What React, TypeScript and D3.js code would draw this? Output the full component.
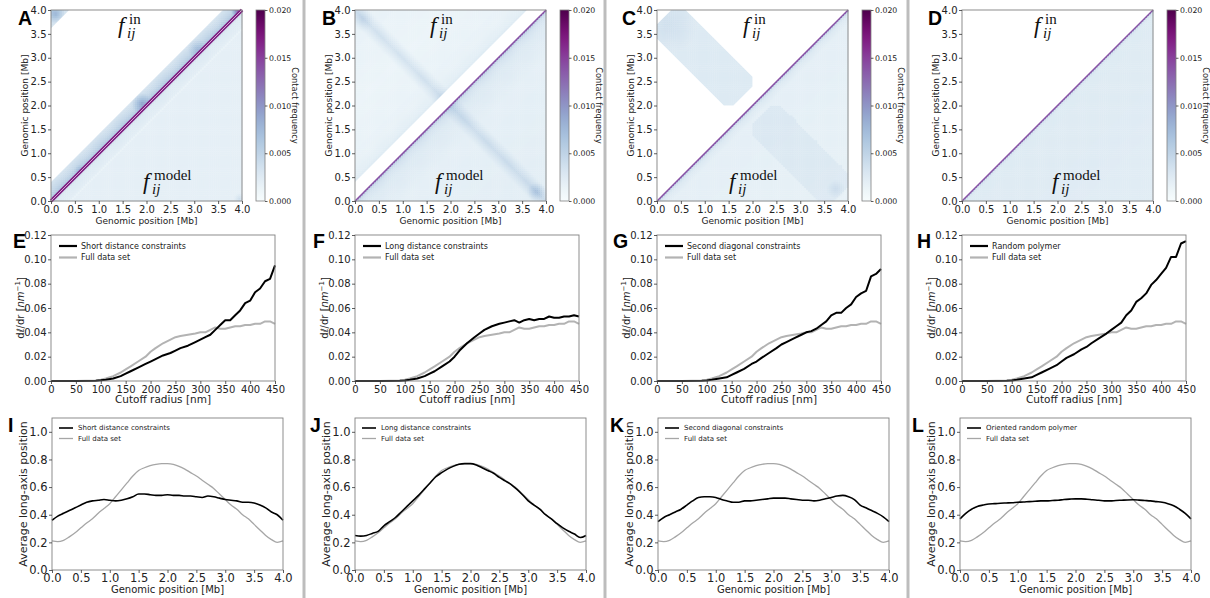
import React, { useEffect, useRef } from "react";
import * as d3 from "d3";

const W = 1210;
const H = 598;
const FONT = "'DejaVu Sans', sans-serif";
const SERIF = "'Liberation Serif', 'DejaVu Serif', serif";

// ---------------- tick labels ----------------
const genomicTicks = [0, 0.5, 1, 1.5, 2, 2.5, 3, 3.5, 4];
const contactTicks = [0, 0.005, 0.01, 0.015, 0.02];
const radiusTicks = [0, 50, 100, 150, 200, 250, 300, 350, 400, 450];
const dldrTicks = [0, 0.02, 0.04, 0.06, 0.08, 0.1, 0.12];
const longAxisTicks = [0, 0.2, 0.4, 0.6, 0.8, 1.0];

// ---------------- row 2: dl/dr vs cutoff radius ----------------
const radii = [0, 50, 90, 100, 110, 125, 140, 150, 160, 175, 190, 200, 210, 225, 240, 250, 260, 275, 290, 300, 310, 320, 330, 340, 350, 360, 370, 380, 390, 400, 410, 420, 430, 440, 450];
const dldrFull = [0, 0, 0.0005, 0.001, 0.002, 0.004, 0.007, 0.0095, 0.012, 0.016, 0.02, 0.024, 0.027, 0.031, 0.034, 0.036, 0.037, 0.038, 0.039, 0.04, 0.04, 0.042, 0.044, 0.043, 0.043, 0.044, 0.045, 0.045, 0.046, 0.046, 0.047, 0.047, 0.049, 0.049, 0.047];
const dldrShort = [0, 0, 0.0003, 0.0006, 0.001, 0.002, 0.004, 0.006, 0.008, 0.011, 0.014, 0.016, 0.018, 0.021, 0.023, 0.025, 0.027, 0.029, 0.032, 0.034, 0.036, 0.038, 0.042, 0.046, 0.05, 0.05, 0.054, 0.058, 0.064, 0.066, 0.073, 0.076, 0.082, 0.084, 0.095];
const dldrLong = [0, 0, 0.0002, 0.0005, 0.001, 0.002, 0.004, 0.006, 0.008, 0.012, 0.016, 0.02, 0.025, 0.031, 0.036, 0.039, 0.042, 0.045, 0.047, 0.048, 0.049, 0.05, 0.048, 0.05, 0.051, 0.05, 0.051, 0.051, 0.053, 0.052, 0.052, 0.053, 0.053, 0.054, 0.053];
const dldrSecond = [0, 0, 0.0002, 0.0005, 0.001, 0.002, 0.003, 0.005, 0.007, 0.01, 0.014, 0.016, 0.019, 0.023, 0.027, 0.03, 0.032, 0.035, 0.038, 0.04, 0.041, 0.043, 0.046, 0.049, 0.054, 0.056, 0.056, 0.06, 0.063, 0.069, 0.072, 0.074, 0.086, 0.088, 0.092];
const dldrRandom = [0, 0, 0.0002, 0.0005, 0.001, 0.002, 0.003, 0.005, 0.007, 0.01, 0.013, 0.016, 0.019, 0.022, 0.026, 0.028, 0.031, 0.035, 0.039, 0.042, 0.045, 0.048, 0.054, 0.058, 0.065, 0.068, 0.072, 0.079, 0.083, 0.088, 0.093, 0.102, 0.102, 0.113, 0.115];

// ---------------- row 3: average long-axis position ----------------
const positions = [0, 0.1, 0.2, 0.3, 0.4, 0.5, 0.6, 0.7, 0.8, 0.9, 1.0, 1.1, 1.2, 1.3, 1.4, 1.5, 1.6, 1.7, 1.8, 1.9, 2.0, 2.1, 2.2, 2.3, 2.4, 2.5, 2.6, 2.7, 2.8, 2.9, 3.0, 3.1, 3.2, 3.3, 3.4, 3.5, 3.6, 3.7, 3.8, 3.9, 4.0];
const longFull = [0.21, 0.205, 0.215, 0.24, 0.27, 0.305, 0.34, 0.37, 0.41, 0.445, 0.48, 0.53, 0.58, 0.63, 0.68, 0.72, 0.74, 0.755, 0.765, 0.77, 0.77, 0.765, 0.75, 0.73, 0.705, 0.68, 0.65, 0.62, 0.59, 0.55, 0.51, 0.47, 0.44, 0.4, 0.37, 0.33, 0.29, 0.25, 0.22, 0.2, 0.21];
const longShort = [0.36, 0.39, 0.41, 0.43, 0.45, 0.47, 0.49, 0.5, 0.505, 0.51, 0.505, 0.5, 0.505, 0.515, 0.53, 0.55, 0.55, 0.545, 0.54, 0.54, 0.545, 0.54, 0.54, 0.535, 0.535, 0.53, 0.525, 0.535, 0.53, 0.52, 0.51, 0.505, 0.5, 0.49, 0.49, 0.485, 0.47, 0.45, 0.42, 0.4, 0.36];
const longLong = [0.25, 0.245, 0.25, 0.265, 0.28, 0.32, 0.35, 0.38, 0.42, 0.46, 0.5, 0.54, 0.585, 0.63, 0.675, 0.705, 0.73, 0.75, 0.765, 0.77, 0.77, 0.76, 0.74, 0.72, 0.7, 0.67, 0.645, 0.62, 0.585, 0.545, 0.5, 0.47, 0.44, 0.4, 0.37, 0.335, 0.305, 0.28, 0.26, 0.235, 0.25];
const longSecond = [0.35, 0.38, 0.4, 0.42, 0.44, 0.47, 0.5, 0.525, 0.53, 0.53, 0.525, 0.51, 0.5, 0.49, 0.49, 0.5, 0.5, 0.505, 0.51, 0.515, 0.52, 0.52, 0.52, 0.515, 0.51, 0.505, 0.505, 0.5, 0.505, 0.515, 0.525, 0.535, 0.54, 0.53, 0.51, 0.47, 0.45, 0.43, 0.41, 0.385, 0.35];
const longRandom = [0.37, 0.41, 0.44, 0.46, 0.47, 0.478, 0.48, 0.483, 0.485, 0.487, 0.49, 0.492, 0.495, 0.497, 0.5, 0.5, 0.503, 0.505, 0.51, 0.513, 0.515, 0.515, 0.512, 0.508, 0.505, 0.5, 0.5, 0.503, 0.505, 0.507, 0.508, 0.506, 0.503, 0.5, 0.495, 0.49, 0.48, 0.465, 0.44, 0.41, 0.37];

const row2Names = ["Short distance constraints", "Long distance constraints", "Second diagonal constraints", "Random polymer"];
const row3Names = ["Short distance constraints", "Long distance constraints", "Second diagonal constraints", "Oriented random polymer"];
const fullName = "Full data set";
const row1Letters = ["A", "B", "C", "D"];
const row2Letters = ["E", "F", "G", "H"];
const row3Letters = ["I", "J", "K", "L"];

// ---------------- heatmap contact-frequency features (genomic Mb) ----------------
const aUpperSeps = [0, 0.03, 0.08, 0.2, 0.4];
const aUpperVals = [0.014, 0.0075, 0.0058, 0.0045, 0.0032];
const aWrapSeps = [3.62, 4.0];
const aWrapVals = [0.0032, 0.0045];
const aLowerSeps = [0, 0.03, 0.1, 0.36, 0.4, 0.44, 4.0];
const aLowerVals = [0.012, 0.0042, 0.0026, 0.0021, 0.0014, 0.0019, 0.0019];
const aEmpty = [[[0, 0.4], [0, 3.62], [0.38, 4], [3.6, 4]]];

const bUpperSeps = [0.4, 0.5, 0.8, 2.0, 4.0];
const bUpperVals = [0.0026, 0.002, 0.0015, 0.0012, 0.0016];
const bLowerSeps = [0, 0.03, 0.1, 0.3, 1.0, 4.0];
const bLowerVals = [0.012, 0.0048, 0.0034, 0.0026, 0.0019, 0.0021];
const fullSquare = [[0, 0], [4, 0], [4, 4], [0, 4]];
const bEmpty = [[[0, 0], [0, 0.4], [3.6, 4], [4, 4]]];

const cUpperBlock = [[0, 3.4], [0, 3.7], [0.3, 4], [0.6, 4], [2, 2.6], [2, 2.4], [1.6, 2], [1.4, 2]];
const cLowerBlock = [[3.4, 0], [3.7, 0], [4, 0.3], [4, 0.6], [2.6, 2], [2.4, 2], [2, 1.6], [2, 1.4]];
const cLowerSeps = [0, 0.03, 0.1, 0.3, 4.0];
const cLowerVals = [0.011, 0.004, 0.0027, 0.0019, 0.0017];
const cEmpty = [[[0, 0], [0, 4], [4, 4]], cUpperBlock];

const dLowerSeps = [0, 0.03, 0.1, 4.0];
const dLowerVals = [0.01, 0.0034, 0.0025, 0.0023];
const dEmpty = [[[0, 0], [0, 4], [4, 4]]];

type Band = { side: string; seps: number[]; vals: number[] };
type Region = { side: string; poly: number[][]; v: number; add: boolean; sumCenter?: number; sumHalf?: number };
type Blob = { side: string; x: number; y: number; r: number; v: number };
type Spec = { bands: Band[]; regions: Region[]; blobs: Blob[]; empty: number[][][]; thickDiag: boolean };

const heatSpecs: Spec[] = [
  {
    bands: [
      { side: "upper", seps: aUpperSeps, vals: aUpperVals },
      { side: "upper", seps: aWrapSeps, vals: aWrapVals },
      { side: "lower", seps: aLowerSeps, vals: aLowerVals },
    ],
    regions: [],
    blobs: [
      { side: "upper", x: 1.9, y: 2.05, r: 0.22, v: 0.004 },
      { side: "upper", x: 3.05, y: 3.2, r: 0.2, v: 0.0025 },
      { side: "upper", x: 0.6, y: 0.65, r: 0.12, v: 0.002 },
      { side: "upper", x: 0.1, y: 3.92, r: 0.2, v: 0.004 },
      { side: "upper", x: 3.92, y: 4.0, r: 0.15, v: 0.008 },
      { side: "lower", x: 3.95, y: 0.05, r: 0.12, v: 0.002 },
    ],
    empty: aEmpty,
    thickDiag: true,
  },
  {
    bands: [
      { side: "upper", seps: bUpperSeps, vals: bUpperVals },
      { side: "lower", seps: bLowerSeps, vals: bLowerVals },
    ],
    regions: [
      { side: "upper", poly: fullSquare, v: 0.0022, add: true, sumCenter: 4.0, sumHalf: 0.3 },
      { side: "lower", poly: fullSquare, v: 0.0022, add: true, sumCenter: 4.0, sumHalf: 0.3 },
    ],
    blobs: [
      { side: "lower", x: 3.8, y: 0.2, r: 0.2, v: 0.003 },
      { side: "upper", x: 0.15, y: 3.8, r: 0.25, v: 0.0015 },
    ],
    empty: bEmpty,
    thickDiag: false,
  },
  {
    bands: [{ side: "lower", seps: cLowerSeps, vals: cLowerVals }],
    regions: [
      { side: "upper", poly: cUpperBlock, v: 0.0026, add: false },
      { side: "lower", poly: cLowerBlock, v: 0.0009, add: true },
    ],
    blobs: [
      { side: "upper", x: 0.25, y: 3.7, r: 0.6, v: 0.0012 },
      { side: "lower", x: 3.75, y: 0.25, r: 0.2, v: 0.0015 },
    ],
    empty: cEmpty,
    thickDiag: false,
  },
  {
    bands: [{ side: "lower", seps: dLowerSeps, vals: dLowerVals }],
    regions: [],
    blobs: [],
    empty: dEmpty,
    thickDiag: false,
  },
];

// ---------------- layout ----------------
const LAYOUT = {
  row1: { lefts: [51, 355, 657, 962], top: 10, size: 191 },
  row2: { lefts: [51, 355, 657, 962], top: 235, width: 224, height: 146 },
  row3: { lefts: [52, 355, 658, 960], top: 418, width: 231, height: 152 },
  seps: [304, 605, 908],
  letters1: [[18, 25], [322, 25], [622, 25], [928, 25]],
  letters2: [[13, 248], [313, 248], [613, 248], [917, 248]],
  letters3: [[8, 432], [310, 432], [610, 432], [912, 432]],
  fIn: [[118, 33], [430, 33], [743, 33], [1034, 33]],
  fModel: [[143, 189], [435, 189], [729, 189], [1052, 189]],
};

const color = d3.scaleSequential(d3.interpolateBuPu).domain([0, 0.02]).clamp(true);

function valueAt(spec: Spec, x: number, y: number): number {
  const side = y > x + 1e-9 ? "upper" : "lower";
  const s = Math.abs(y - x);
  let v = NaN;
  for (const b of spec.bands) {
    if (b.side === side && s >= b.seps[0] - 1e-9 && s <= b.seps[b.seps.length - 1] + 1e-9) {
      v = d3.scaleLinear().domain(b.seps).range(b.vals).clamp(true)(s);
    }
  }
  for (const r of spec.regions) {
    if (r.side !== side) continue;
    if (!d3.polygonContains(r.poly as [number, number][], [x, y])) continue;
    let w = 1;
    if (r.sumHalf !== undefined && r.sumCenter !== undefined) {
      w = Math.max(0, 1 - Math.abs(x + y - r.sumCenter) / r.sumHalf);
    }
    if (r.add) {
      if (!isNaN(v)) v += r.v * w;
    } else {
      v = r.v * w;
    }
  }
  if (!isNaN(v)) {
    for (const bl of spec.blobs) {
      if (bl.side !== side) continue;
      const d = Math.hypot(x - bl.x, y - bl.y);
      if (d < bl.r) v += bl.v * (1 - d / bl.r);
    }
  }
  return v;
}

function styleAxis(sel: any, fs: number) {
  sel.select(".domain").remove();
  sel.attr("font-family", FONT).attr("font-size", fs);
  sel.selectAll("line").attr("stroke", "#333").attr("stroke-width", 0.8);
  sel.selectAll("text").attr("fill", "#222");
}

function drawHeatmap(g: any, idx: number) {
  const L = LAYOUT.row1;
  const left = L.lefts[idx];
  const top = L.top;
  const size = L.size;
  const spec = heatSpecs[idx];
  const xs = d3.scaleLinear().domain([0, 4]).range([left, left + size]);
  const ys = d3.scaleLinear().domain([0, 4]).range([top + size, top]);
  const N = 100;
  const bin = 4 / N;
  const cells: { i: number; j: number; v: number }[] = [];
  for (let i = 0; i < N; i++) {
    for (let j = 0; j < N; j++) {
      let v = valueAt(spec, (i + 0.5) * bin, (j + 0.5) * bin);
      if (isNaN(v)) {
        const corners = [[i, j], [i + 1, j], [i, j + 1], [i + 1, j + 1]];
        for (const [ci, cj] of corners) {
          const cv = valueAt(spec, ci * bin, cj * bin);
          if (!isNaN(cv)) { v = cv; break; }
        }
      }
      if (!isNaN(v)) cells.push({ i, j, v });
    }
  }
  const cw = xs(bin) - xs(0);
  const hg = g.append("g");
  hg.selectAll("rect")
    .data(cells)
    .join("rect")
    .attr("x", (d: any) => xs(d.i * bin))
    .attr("y", (d: any) => ys((d.j + 1) * bin))
    .attr("width", cw + 0.35)
    .attr("height", cw + 0.35)
    .attr("fill", (d: any) => color(d.v));

  // areas without data (white), drawn on genomic coordinates
  const ring = (pts: number[][]) => "M" + pts.map((p) => `${xs(p[0])},${ys(p[1])}`).join("L") + "Z";
  g.append("path").attr("d", spec.empty.map(ring).join(" "))
    .attr("fill", "#fff").attr("fill-rule", "evenodd");

  // diagonal
  if (spec.thickDiag) {
    g.append("line").attr("x1", xs(0)).attr("y1", ys(0)).attr("x2", xs(4)).attr("y2", ys(4))
      .attr("stroke", color(0.017)).attr("stroke-width", 3.6);
    g.append("line").attr("x1", xs(0)).attr("y1", ys(0)).attr("x2", xs(4)).attr("y2", ys(4))
      .attr("stroke", "#f4e8f4").attr("stroke-width", 0.7);
  } else {
    g.append("line").attr("x1", xs(0)).attr("y1", ys(0)).attr("x2", xs(4)).attr("y2", ys(4))
      .attr("stroke", color(0.014)).attr("stroke-width", 1.3);
  }

  // frame
  g.append("rect").attr("x", left).attr("y", top).attr("width", size).attr("height", size)
    .attr("fill", "none").attr("stroke", "#808080").attr("stroke-width", 0.9);

  // axes
  const xa = g.append("g").attr("transform", `translate(0,${top + size})`)
    .call(d3.axisBottom(xs).tickValues(genomicTicks).tickFormat(d3.format(".1f")).tickSize(3).tickPadding(1.5));
  styleAxis(xa, 10);
  const ya = g.append("g").attr("transform", `translate(${left},0)`)
    .call(d3.axisLeft(ys).tickValues(genomicTicks).tickFormat(d3.format(".1f")).tickSize(3).tickPadding(1.5));
  styleAxis(ya, 10);

  g.append("text").attr("x", left + size / 2).attr("y", 224).attr("text-anchor", "middle")
    .attr("font-family", FONT).attr("font-size", 9).attr("fill", "#222").text("Genomic position [Mb]");
  g.append("text").attr("transform", `translate(${left - 26},${top + size / 2}) rotate(-90)`)
    .attr("text-anchor", "middle").attr("dy", "0.35em")
    .attr("font-family", FONT).attr("font-size", 9).attr("fill", "#222").text("Genomic position [Mb]");

  // f labels
  const fl = (pos: number[], sup: string) => {
    const [fx, fy] = pos;
    g.append("text").attr("x", fx).attr("y", fy).attr("font-family", SERIF).attr("font-style", "italic")
      .attr("font-size", 23).attr("fill", "#111").text("f");
    g.append("text").attr("x", fx + 11).attr("y", fy - 9).attr("font-family", SERIF)
      .attr("font-size", 15).attr("fill", "#111").text(sup);
    g.append("text").attr("x", fx + 9).attr("y", fy + 5).attr("font-family", SERIF).attr("font-style", "italic")
      .attr("font-size", 15).attr("fill", "#111").text("ij");
  };
  fl(LAYOUT.fIn[idx], "in");
  fl(LAYOUT.fModel[idx], "model");

  // colorbar
  const cbx = left + 205;
  const cbw = 9;
  const gradId = `grad${idx}`;
  const grad = g.append("defs").append("linearGradient").attr("id", gradId)
    .attr("x1", 0).attr("y1", 1).attr("x2", 0).attr("y2", 0);
  d3.range(0, 1.0001, 0.05).forEach((t) => {
    grad.append("stop").attr("offset", t).attr("stop-color", color(t * 0.02));
  });
  g.append("rect").attr("x", cbx).attr("y", top).attr("width", cbw).attr("height", size)
    .attr("fill", `url(#${gradId})`).attr("stroke", "#808080").attr("stroke-width", 0.8);
  const cs = d3.scaleLinear().domain([0, 0.02]).range([top + size, top]);
  const ca = g.append("g").attr("transform", `translate(${cbx + cbw},0)`)
    .call(d3.axisRight(cs).tickValues(contactTicks).tickFormat(d3.format(".3f")).tickSize(2.5).tickPadding(1.5));
  styleAxis(ca, 7.8);
  g.append("text").attr("transform", `translate(${cbx + 39},${top + size / 2}) rotate(90)`)
    .attr("text-anchor", "middle").attr("dy", "0.35em")
    .attr("font-family", FONT).attr("font-size", 8.3).attr("fill", "#222").text("Contact frequency");
}

type Series = { xs: number[]; ys: number[]; color: string; width: number };

function drawLineChart(g: any, o: any) {
  const { left, top, width, height } = o;
  const xs = d3.scaleLinear().domain(o.xDomain).range([left, left + width]);
  const ys = d3.scaleLinear().domain(o.yDomain).range([top + height, top]);
  const line = d3.line<[number, number]>().x((d) => xs(d[0])).y((d) => ys(d[1])).curve(o.curve);
  o.series.forEach((s: Series) => {
    g.append("path").attr("d", line(s.xs.map((x, i) => [x, s.ys[i]] as [number, number])))
      .attr("fill", "none").attr("stroke", s.color).attr("stroke-width", s.width)
      .attr("stroke-linejoin", "round");
  });
  g.append("rect").attr("x", left).attr("y", top).attr("width", width).attr("height", height)
    .attr("fill", "none").attr("stroke", "#808080").attr("stroke-width", 0.9);
  const xa = g.append("g").attr("transform", `translate(0,${top + height})`)
    .call(d3.axisBottom(xs).tickValues(o.xTicks).tickFormat(o.xFmt).tickSize(3).tickPadding(o.padX));
  styleAxis(xa, o.tickFs);
  const ya = g.append("g").attr("transform", `translate(${left},0)`)
    .call(d3.axisLeft(ys).tickValues(o.yTicks).tickFormat(o.yFmt).tickSize(3).tickPadding(1.5));
  styleAxis(ya, o.tickFs);

  g.append("text").attr("x", left + width / 2).attr("y", o.xLabelY).attr("text-anchor", "middle")
    .attr("font-family", FONT).attr("font-size", o.labelFs).attr("fill", "#222").text(o.xLabel);
  const yl = g.append("text").attr("transform", `translate(${left + o.yLabelDx},${top + height / 2}) rotate(-90)`)
    .attr("text-anchor", "middle").attr("dy", "0.35em")
    .attr("font-family", FONT).attr("font-size", o.yLabelFs).attr("fill", "#222");
  o.yLabel(yl);

  const leg = o.legend;
  leg.items.forEach((it: any, i: number) => {
    const y = top + leg.dy0 + i * leg.step;
    g.append("line").attr("x1", left + leg.x1).attr("x2", left + leg.x2).attr("y1", y).attr("y2", y)
      .attr("stroke", it.color).attr("stroke-width", it.width);
    g.append("text").attr("x", left + leg.tx).attr("y", y).attr("dy", "0.35em")
      .attr("font-family", FONT).attr("font-size", leg.fs).attr("fill", "#222").text(it.name);
  });
}

function drawLetter(g: any, letter: string, pos: number[]) {
  g.append("text").attr("x", pos[0]).attr("y", pos[1]).attr("font-family", "'Liberation Sans', Arial, sans-serif")
    .attr("font-weight", "bold").attr("font-size", 19.5).attr("fill", "#000").text(letter);
}

export default function App() {
  const ref = useRef<SVGSVGElement>(null);
  useEffect(() => {
    const svg = d3.select(ref.current);
    svg.selectAll("*").remove();
    const g = svg.append("g");
    g.append("rect").attr("width", W).attr("height", H).attr("fill", "#fff");

    LAYOUT.seps.forEach((x) => {
      g.append("line").attr("x1", x).attr("x2", x).attr("y1", 0).attr("y2", H)
        .attr("stroke", "#bdbdbd").attr("stroke-width", 3);
    });

    for (let i = 0; i < 4; i++) {
      drawHeatmap(g, i);
      drawLetter(g, row1Letters[i], LAYOUT.letters1[i]);
    }

    const blacks2 = [dldrShort, dldrLong, dldrSecond, dldrRandom];
    for (let i = 0; i < 4; i++) {
      const L = LAYOUT.row2;
      drawLineChart(g, {
        left: L.lefts[i], top: L.top, width: L.width, height: L.height,
        xDomain: [0, 450], yDomain: [0, 0.12], xTicks: radiusTicks, yTicks: dldrTicks,
        xFmt: d3.format("d"), yFmt: d3.format(".2f"), tickFs: 10, padX: 2, curve: d3.curveLinear,
        series: [
          { xs: radii, ys: dldrFull, color: "#b3b3b3", width: 2 },
          { xs: radii, ys: blacks2[i], color: "#000", width: 2 },
        ],
        xLabel: "Cutoff radius [nm]", xLabelY: 403, labelFs: 10.5, yLabelDx: -31, yLabelFs: 10,
        yLabel: (t: any) => {
          t.append("tspan").text("dℓ/dr [");
          t.append("tspan").attr("font-style", "italic").text("nm");
          t.append("tspan").attr("font-size", 7).attr("dy", "-0.45em").text("−1");
          t.append("tspan").attr("dy", "0.45em").text("]");
        },
        legend: {
          x1: 8, x2: 26, tx: 30, dy0: 11, step: 11.5, fs: 8,
          items: [
            { name: row2Names[i], color: "#000", width: 2.2 },
            { name: fullName, color: "#b3b3b3", width: 2.2 },
          ],
        },
      });
      drawLetter(g, row2Letters[i], LAYOUT.letters2[i]);
    }

    const blacks3 = [longShort, longLong, longSecond, longRandom];
    for (let i = 0; i < 4; i++) {
      const L = LAYOUT.row3;
      drawLineChart(g, {
        left: L.lefts[i], top: L.top, width: L.width, height: L.height,
        xDomain: [0, 4], yDomain: [0, 1.1], xTicks: genomicTicks, yTicks: longAxisTicks,
        xFmt: d3.format(".1f"), yFmt: d3.format(".1f"), tickFs: 11.5, padX: 1, curve: d3.curveMonotoneX,
        series: [
          { xs: positions, ys: longFull, color: "#a6a6a6", width: 1.3 },
          { xs: positions, ys: blacks3[i], color: "#000", width: 1.6 },
        ],
        xLabel: "Genomic position [Mb]", xLabelY: 593, labelFs: 10, yLabelDx: -29, yLabelFs: 11,
        yLabel: (t: any) => { t.text("Average long-axis position"); },
        legend: {
          x1: 7, x2: 21, tx: 26, dy0: 10, step: 10.5, fs: 7,
          items: [
            { name: row3Names[i], color: "#000", width: 1.6 },
            { name: fullName, color: "#a6a6a6", width: 1.3 },
          ],
        },
      });
      drawLetter(g, row3Letters[i], LAYOUT.letters3[i]);
    }
  }, []);
  return (
    <svg ref={ref} width={W} height={H}
      style={{ display: "block", position: "absolute", left: 0, top: 0, background: "#fff" }} />
  );
}
